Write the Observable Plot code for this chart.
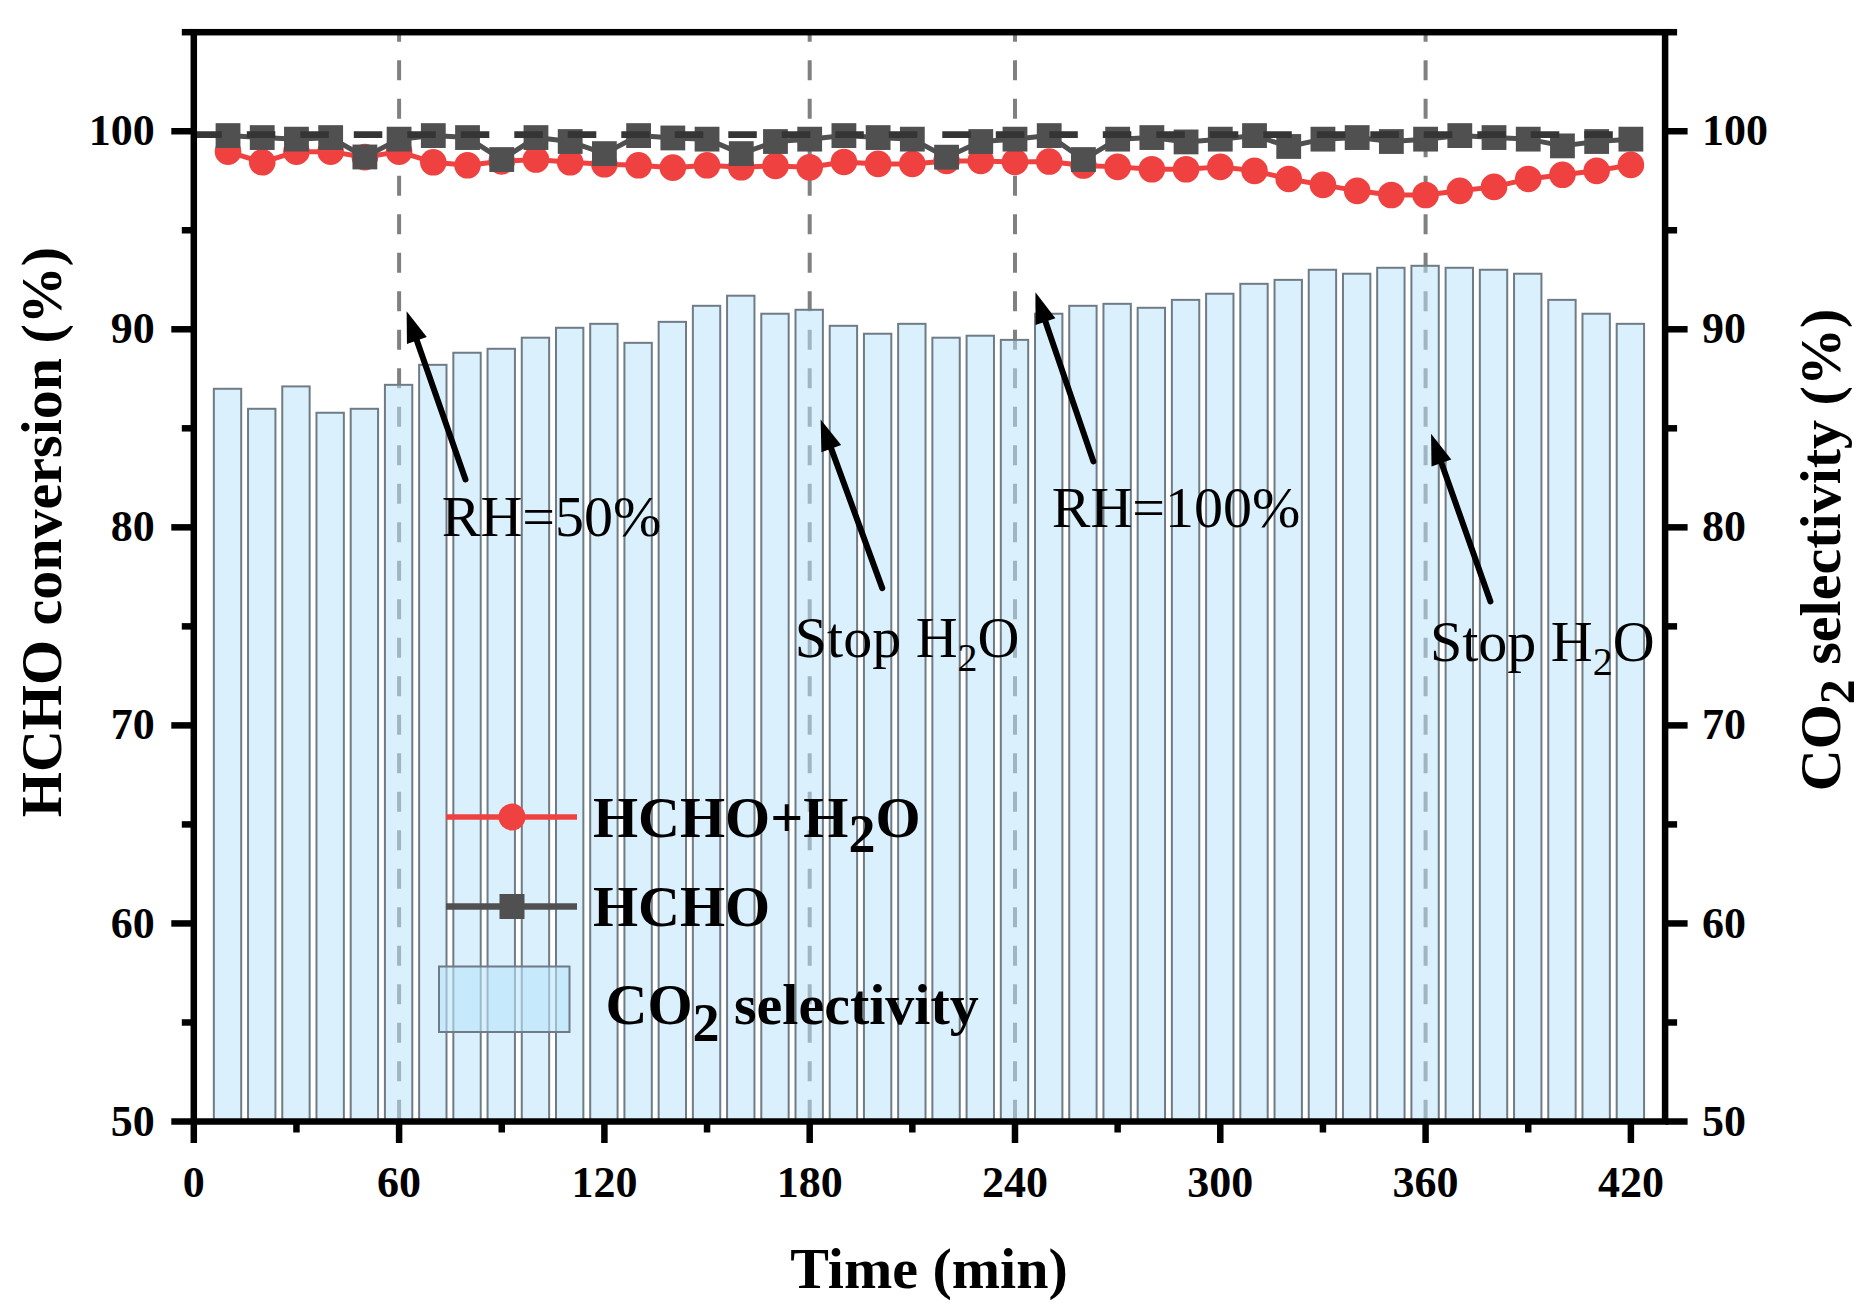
<!DOCTYPE html>
<html><head><meta charset="utf-8">
<script src="https://cdn.jsdelivr.net/npm/d3@7"></script>
<script src="https://cdn.jsdelivr.net/npm/@observablehq/plot@0.6"></script>
<style>body{margin:0;background:#fff;} #chart svg{display:block;}</style>
</head><body><div id="chart"></div>
<script>
// ---- data ----
const times = [10,20,30,40,50,60,70,80,90,100,110,120,130,140,150,160,170,180,190,200,210,220,230,240,250,260,270,280,290,300,310,320,330,340,350,360,370,380,390,400,410,420];
const hchoH2O = [98.97,98.43,98.97,98.97,98.69,98.97,98.43,98.28,98.48,98.57,98.43,98.33,98.28,98.16,98.28,98.18,98.25,98.18,98.45,98.35,98.35,98.5,98.5,98.45,98.47,98.27,98.2,98.08,98.08,98.2,98.0,97.59,97.29,96.99,96.78,96.78,96.99,97.19,97.59,97.8,98.0,98.3];
const hcho = [99.78,99.68,99.6,99.68,98.7,99.6,99.78,99.68,98.57,99.68,99.48,98.87,99.78,99.66,99.6,98.87,99.48,99.6,99.78,99.68,99.6,98.69,99.48,99.6,99.78,98.57,99.6,99.68,99.46,99.6,99.78,99.23,99.6,99.68,99.48,99.6,99.78,99.68,99.6,99.26,99.48,99.6];
const co2Sel = [86.97,85.96,87.09,85.76,85.96,87.17,88.18,88.79,88.99,89.55,90.05,90.25,89.29,90.35,91.16,91.67,90.76,90.96,90.15,89.75,90.25,89.55,89.65,89.44,90.76,91.16,91.26,91.06,91.46,91.77,92.27,92.47,92.98,92.78,93.08,93.18,93.08,92.98,92.78,91.46,90.76,90.25];

const xMajorTicks = [0,60,120,180,240,300,360,420];
const xMinorTicks = [30,90,150,210,270,330,390];
const yMajorTicks = [50,60,70,80,90,100];
const yMinorTicks = [55,65,75,85,95,105];
const xDomain = [0,430];
const yDomain = [50,105];
const eventTimes = [60,180,240,360];
const refLevel = [99.83];

const arrowTailX = [79.4, 201.2, 262.9, 378.95];
const arrowTailY = [82.42, 76.93, 83.33, 76.26];
const arrowTipX = [62.2, 183.2, 245.97, 361.6];
const arrowTipY = [90.91, 85.44, 91.87, 84.73];

const noteText = ["RH=50%", "Stop H|2|O", "RH=100%", "Stop H|2|O"];
const noteX = [72.6, 175.8, 250.9, 361.4];
const noteY = [79.55, 73.43, 79.97, 73.23];

// ---- layout ----
const W = 1866, H = 1310;
const mL = 193.3, mR = 201.4, mT = 31.7, mB = 189;
const FONT = "'Liberation Serif','Times New Roman',serif";

const rows = times.map((t, i) => ({t, red: hchoH2O[i], gray: hcho[i], sel: co2Sel[i]}));
const arrows = arrowTailX.map((_, i) => ({x1: arrowTailX[i], y1: arrowTailY[i], x2: arrowTipX[i], y2: arrowTipY[i]}));

const sx = Plot.scale({x: {domain: xDomain, range: [mL, W - mR]}});
const sy = Plot.scale({y: {domain: yDomain, range: [H - mB, mT]}});
const headAngle = d => {
  const dx = sx.apply(d.x2) - sx.apply(d.x1);
  const dy = sy.apply(d.y2) - sy.apply(d.y1);
  return Math.atan2(dx, -dy) * 180 / Math.PI;
};
const headSymbol = {draw(ctx) { ctx.moveTo(0, 0); ctx.lineTo(10.5, 31); ctx.lineTo(-10.5, 31); ctx.closePath(); }};

const barFill = "rgb(186,229,251)";
const barStroke = "#6f7b85";
const red = "#f04141";
const gray = "#505050";

const chart = Plot.plot({
  width: W, height: H,
  marginLeft: mL, marginRight: mR, marginTop: mT, marginBottom: mB,
  x: {domain: xDomain},
  y: {domain: yDomain},
  style: {fontFamily: FONT, background: "white", color: "black"},
  marks: [
    Plot.ruleX(eventTimes, {x: d => d, y1: 105, y2: 50, stroke: "#808080", strokeWidth: 4, strokeDasharray: "20,18.5", strokeDashoffset: 10}),
    Plot.rectY(rows, {x1: d => d.t - 4, x2: d => d.t + 4, y1: 50, y2: "sel", fill: barFill, fillOpacity: 0.535, stroke: barStroke, strokeWidth: 2}),
    Plot.line(rows, {x: "t", y: "red", stroke: red, strokeWidth: 5}),
    Plot.dot(rows, {x: "t", y: "red", r: 13.3, fill: red, stroke: "none"}),
    Plot.line(rows, {x: "t", y: "gray", stroke: gray, strokeWidth: 5}),
    Plot.dot(rows, {x: "t", y: "gray", r: 14, symbol: "square", fill: gray, stroke: "none"}),
    Plot.ruleY(refLevel, {y: d => d, x1: 0, x2: 420, stroke: "#353535", strokeWidth: 6.7, strokeDasharray: "28.5,25"}),
    Plot.arrow(arrows, {x1: "x1", y1: "y1", x2: "x2", y2: "y2", stroke: "black", strokeWidth: 6, headLength: 0, insetEnd: 24}),
    Plot.dot(arrows, {x: "x2", y: "y2", symbol: headSymbol, rotate: headAngle, fill: "black", stroke: "none"}),
    Plot.frame({stroke: "black", strokeWidth: 6.5}),
    Plot.axisX({ticks: xMajorTicks, tickSize: 22, tickPadding: 22, strokeWidth: 6.5, fontSize: 44, fontWeight: "bold", tickFormat: d => String(d), label: null}),
    Plot.axisX({ticks: xMinorTicks, tickSize: 11.5, strokeWidth: 6.5, tickFormat: () => "", label: null}),
    Plot.axisY({anchor: "left", ticks: yMajorTicks, tickSize: 22, tickPadding: 17, strokeWidth: 6.5, fontSize: 44, fontWeight: "bold", tickFormat: d => String(d), label: null}),
    Plot.axisY({anchor: "left", ticks: yMinorTicks, tickSize: 11.5, strokeWidth: 6.5, tickFormat: () => "", label: null}),
    Plot.axisY({anchor: "right", ticks: yMajorTicks, tickSize: 22, tickPadding: 15, strokeWidth: 6.5, fontSize: 44, fontWeight: "bold", tickFormat: d => String(d), label: null}),
    Plot.axisY({anchor: "right", ticks: yMinorTicks, tickSize: 11.5, strokeWidth: 6.5, tickFormat: () => "", label: null})
  ]
});

document.getElementById("chart").appendChild(chart);

// ---- text overlays (annotations, legend, titles) ----
const svg = d3.select(chart);
const X = chart.scale("x"), Y = chart.scale("y");
const g = svg.append("g").attr("font-family", FONT).attr("fill", "black").attr("text-anchor", "start");

function richText(parent, x, y, parts, opts) {
  const t = parent.append("text").attr("x", x).attr("y", y)
    .attr("font-size", opts.size).attr("font-weight", opts.weight || "normal")
    .attr("text-anchor", opts.anchor || "start");
  if (opts.transform) t.attr("transform", opts.transform);
  let shift = 0;
  parts.forEach((p, i) => {
    const isSub = i % 2 === 1;
    const s = t.append("tspan").text(p);
    if (isSub) { s.attr("font-size", opts.subSize).attr("dy", opts.subShift); shift = opts.subShift; }
    else if (shift) { s.attr("dy", -shift); shift = 0; }
  });
  return t;
}

noteText.forEach((txt, i) => {
  richText(g, X.apply(noteX[i]), Y.apply(noteY[i]), txt.split("|"), {size: 58, subSize: 40, subShift: 14});
});

// legend
const lg = g.append("g");
lg.append("line").attr("x1", 446).attr("x2", 577).attr("y1", 817).attr("y2", 817).attr("stroke", red).attr("stroke-width", 5.5);
lg.append("circle").attr("cx", 512).attr("cy", 817).attr("r", 13.5).attr("fill", red);
richText(lg, 593, 836.5, ["HCHO+H", "2", "O"], {size: 58, weight: "bold", subSize: 54, subShift: 15});
lg.append("line").attr("x1", 446).attr("x2", 577).attr("y1", 906.5).attr("y2", 906.5).attr("stroke", gray).attr("stroke-width", 6.5);
lg.append("rect").attr("x", 499.5).attr("y", 894).attr("width", 25).attr("height", 25).attr("fill", gray);
richText(lg, 593, 926, ["HCHO"], {size: 58, weight: "bold"});
lg.append("rect").attr("x", 439).attr("y", 966.5).attr("width", 130.5).attr("height", 65.5)
  .attr("fill", barFill).attr("fill-opacity", 0.6).attr("stroke", barStroke).attr("stroke-width", 2);
richText(lg, 605.5, 1024, ["CO", "2", " selectivity"], {size: 58, weight: "bold", subSize: 54, subShift: 17});

// axis titles
richText(g, (mL + W - mR) / 2, 1288, ["Time (min)"], {size: 58, weight: "bold", anchor: "middle"});
richText(g, 0, 0, ["HCHO conversion (%)"], {size: 58, weight: "bold", anchor: "middle", transform: "translate(61,532) rotate(-90)"});
richText(g, 0, 0, ["CO", "2", " selectivity (%)"], {size: 58, weight: "bold", anchor: "middle", subSize: 50, subShift: 14, transform: "translate(1840,550) rotate(-90)"});
</script>
</body></html>
